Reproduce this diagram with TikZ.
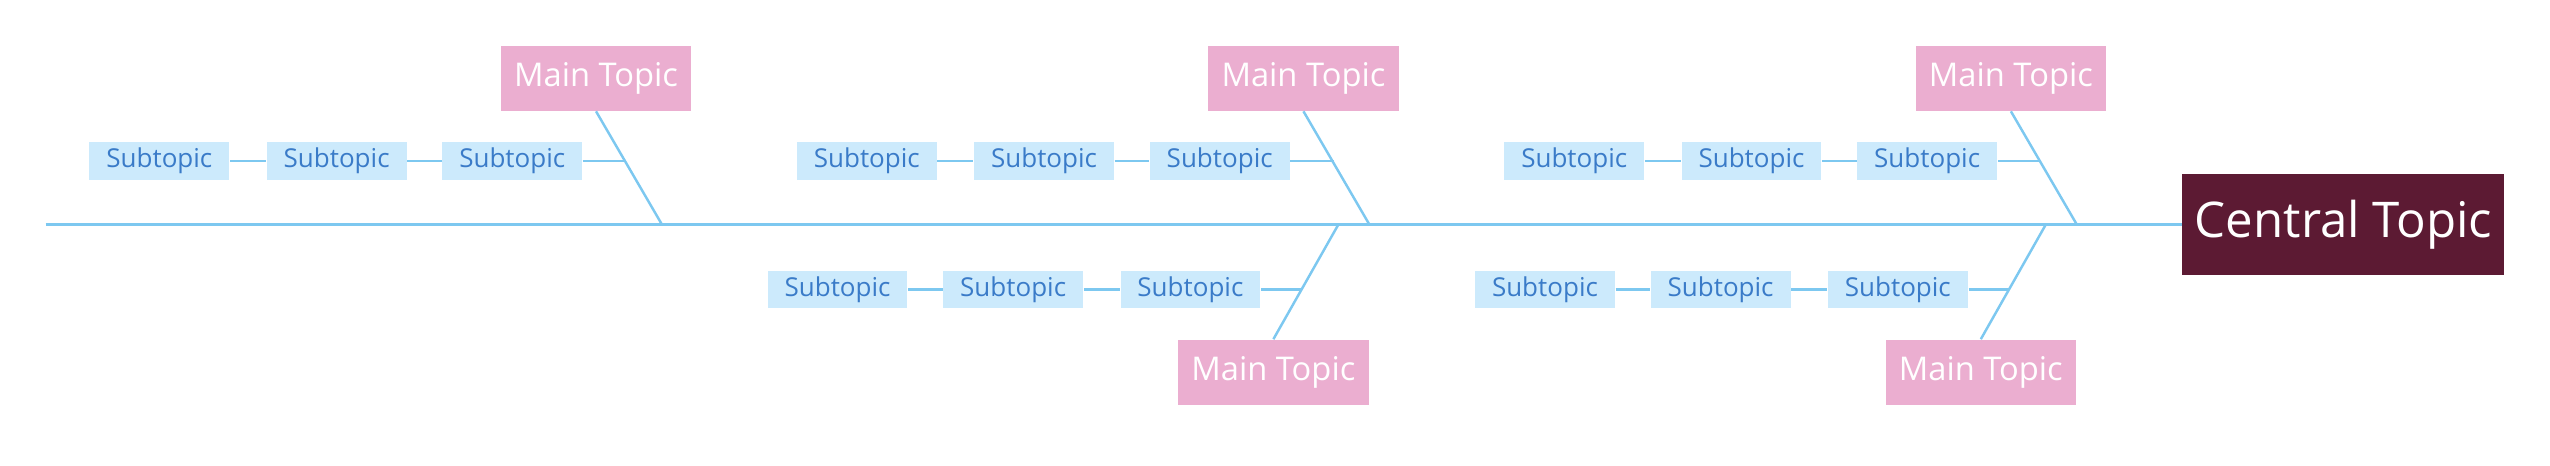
\documentclass[tikz,border=0pt]{standalone}
\usepackage{fontspec}
\setmainfont{Open Sans}
\definecolor{spine}{HTML}{7DC8F0}
\definecolor{maintopic}{HTML}{EBAED0}
\definecolor{central}{HTML}{5C1A33}
\definecolor{subfill}{HTML}{CCEAFC}
\definecolor{subtext}{HTML}{3A7BC8}
\tikzset{
  sub/.style={fill=subfill, text=subtext, minimum width=86*0.016263cm, minimum height=23*0.016263cm, inner sep=0pt, font=\fontsize{7.4}{8}\selectfont},
  main/.style={fill=maintopic, text=white, minimum width=117*0.016263cm, minimum height=40*0.016263cm, inner sep=0pt, font=\fontsize{9.3}{11}\selectfont},
  line/.style={spine, line width=0.7pt}
}
\begin{document}
\begin{tikzpicture}[x=0.016263cm, y=-0.016263cm]
\useasboundingbox (0,0) rectangle (1568,286);
% espinha principal
\node [fill=central, text=white, minimum width=198*0.016263cm, minimum height=62*0.016263cm, inner sep=0pt, font=\fontsize{14}{16}\selectfont] (central) at (1441,138) {Central Topic};
\coordinate (tail) at (28,138);
\draw [line] (tail) -- (central.west);

% ramos de cima
\foreach \i/\dx in {1/0, 2/435, 3/870} {
  \node [main] (mtop\i) at (366.5+\dx,48) {Main Topic};
  \coordinate (jtop\i) at (407+\dx,138);
  \coordinate (ktop\i) at (385+\dx,99);
  \draw [line] (mtop\i.south) -- (jtop\i);
  \node [sub] (stop\i a) at (98+\dx,99) {Subtopic};
  \node [sub] (stop\i b) at (207+\dx,99) {Subtopic};
  \node [sub] (stop\i c) at (315+\dx,99) {Subtopic};
  \draw [line] (stop\i a) -- (stop\i b);
  \draw [line] (stop\i b) -- (stop\i c);
  \draw [line] (stop\i c) -- (ktop\i);
}

% ramos de baixo
\foreach \i/\dx in {1/0, 2/435} {
  \node [main] (mbot\i) at (783+\dx,229) {Main Topic};
  \coordinate (jbot\i) at (823+\dx,138);
  \coordinate (kbot\i) at (800.5+\dx,178);
  \draw [line] (jbot\i) -- (mbot\i.north);
  \node [sub] (sbot\i a) at (515+\dx,178) {Subtopic};
  \node [sub] (sbot\i b) at (623+\dx,178) {Subtopic};
  \node [sub] (sbot\i c) at (732+\dx,178) {Subtopic};
  \draw [line] (sbot\i a) -- (sbot\i b);
  \draw [line] (sbot\i b) -- (sbot\i c);
  \draw [line] (sbot\i c) -- (kbot\i);
}
\end{tikzpicture}
\end{document}
